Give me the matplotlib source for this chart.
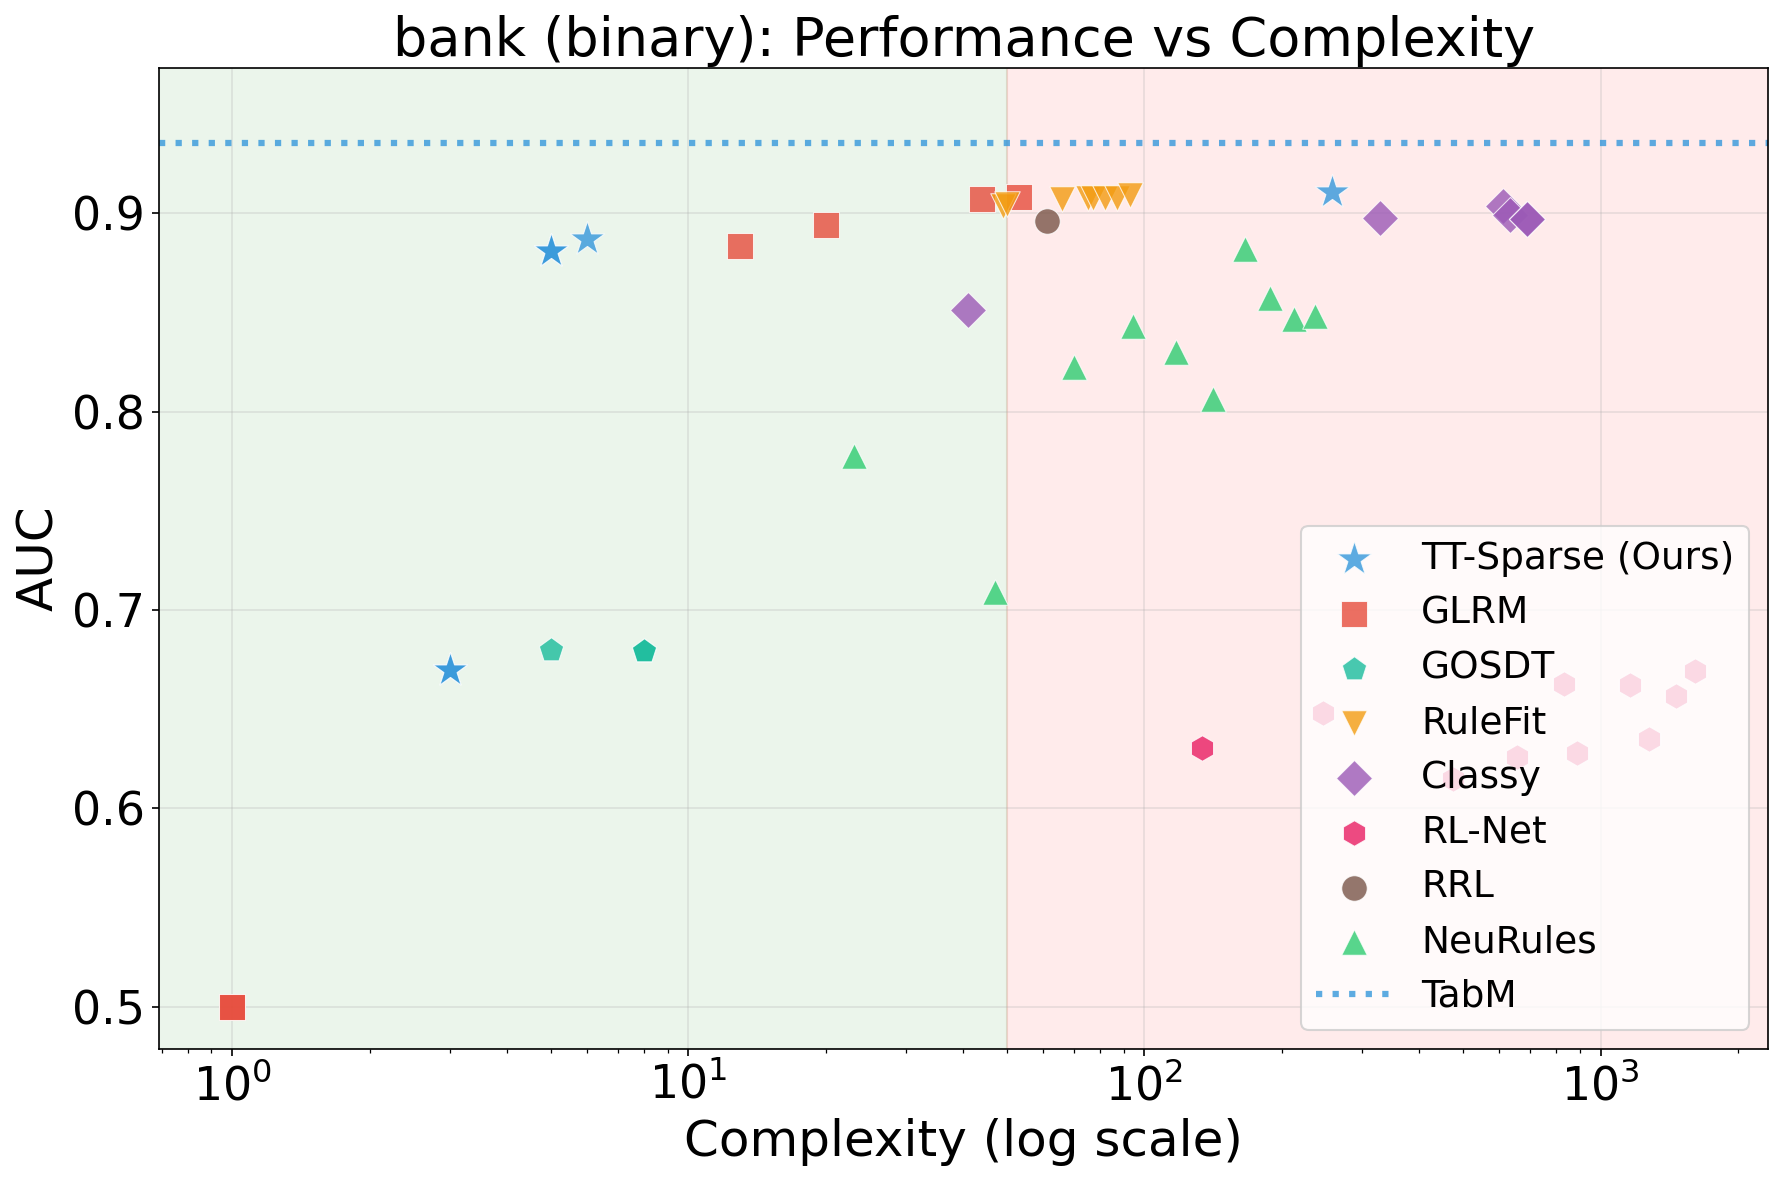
import matplotlib
matplotlib.use('Agg')
import matplotlib.pyplot as plt

# data (complexity, AUC); repeated points overlap
tt_x = [3, 3, 5, 5, 6, 258]
tt_y = [0.670, 0.670, 0.881, 0.881, 0.887, 0.9105]

glrm_x = [1, 1, 13, 20, 44, 53]
glrm_y = [0.500, 0.500, 0.8835, 0.894, 0.9072, 0.9082]

gosdt_x = [5, 8, 8]
gosdt_y = [0.680, 0.6795, 0.6795]

rulefit_x = [49, 50, 66, 75, 77, 82, 87, 93]
rulefit_y = [0.9035, 0.9043, 0.907, 0.9077, 0.9075, 0.9075, 0.9075, 0.9092]

classy_x = [41, 329, 612, 632, 690, 690]
classy_y = [0.8513, 0.8974, 0.9035, 0.899, 0.8971, 0.8971]

rlnet_x = [134, 246, 475, 656, 831, 887, 1160, 1277, 1463, 1610]
rlnet_y = [0.6306, 0.6481, 0.6149, 0.626, 0.6628, 0.628, 0.6623, 0.635, 0.6569, 0.6695]

rrl_x = [61]
rrl_y = [0.8959]

neurules_x = [23.1, 47.1, 70.1, 94.3, 117.3, 141.4, 166, 188.4, 212.3, 236.6]
neurules_y = [0.7775, 0.7089, 0.8223, 0.843, 0.8299, 0.8062, 0.882, 0.8573, 0.8467, 0.848]

tabm_auc = 0.9355
threshold = 50

series = [
    ('TT-Sparse (Ours)', tt_x, tt_y, '*', '#3498db', 300),
    ('GLRM', glrm_x, glrm_y, 's', '#e74c3c', 150),
    ('GOSDT', gosdt_x, gosdt_y, 'p', '#1abc9c', 150),
    ('RuleFit', rulefit_x, rulefit_y, 'v', '#f39c12', 150),
    ('Classy', classy_x, classy_y, 'D', '#9b59b6', 150),
    ('RL-Net', rlnet_x, rlnet_y, 'h', '#e91e63', 150),
    ('RRL', rrl_x, rrl_y, 'o', '#795548', 150),
    ('NeuRules', neurules_x, neurules_y, '^', '#2ecc71', 150),
]

fig = plt.figure(figsize=(1783/150, 1181/150), dpi=150)
ax = fig.add_axes([0.0893, 0.1121, 0.9023, 0.8302])

for name, xs, ys, mk, col, sz in series:
    ax.scatter(xs, ys, marker=mk, s=sz, color=col, alpha=0.8,
               edgecolors='white', linewidths=0.5, label=name, zorder=3)

ax.axhline(tabm_auc, color='#3498db', linestyle=':', linewidth=3, alpha=0.8, label='TabM')

ax.set_xscale('log')
ax.set_ylim(0.479, 0.973)
xmin, xmax = ax.get_xlim()
ax.axvspan(xmin, threshold, color='green', alpha=0.08, zorder=0)
ax.axvspan(threshold, xmax, color='red', alpha=0.08, zorder=0)
ax.set_xlim(xmin, xmax)

ax.grid(True, alpha=0.3)
ax.set_xlabel('Complexity (log scale)', fontsize=24)
ax.set_ylabel('AUC', fontsize=24)
ax.set_title('bank (binary): Performance vs Complexity', fontsize=26)
ax.tick_params(labelsize=22)
ax.legend(loc='lower right', fontsize=18)

fig.savefig('out.png', dpi=150)
